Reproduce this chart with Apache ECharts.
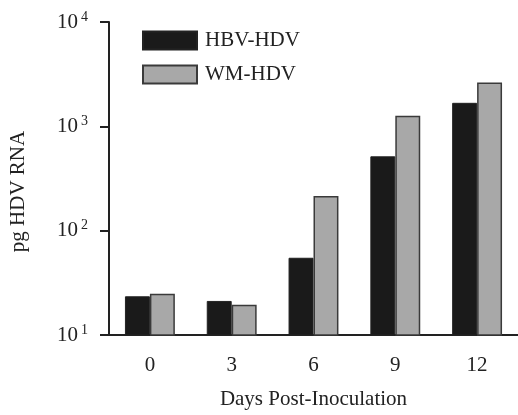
<!DOCTYPE html>
<html>
<head>
<meta charset="utf-8">
<script src="https://cdn.jsdelivr.net/npm/echarts@6/dist/echarts.min.js"></script>
<style>
html, body { margin: 0; padding: 0; background: #fff; }
#main { width: 518px; height: 415px; }
</style>
</head>
<body>
<div id="main"></div>
<script>
// data
var days = ['0', '3', '6', '9', '12'];
var hbvHdv = [23.5, 21.2, 55, 516, 1680];
var wmHdv = [24.8, 19.5, 215, 1260, 2630];
var yTicks = [10, 100, 1000, 10000];
var yExponents = ['1', '2', '3', '4'];

var serif = '"Liberation Serif", "DejaVu Serif", serif';
var ink = '#222';

var myChart = echarts.init(document.getElementById('main'));
var option = {
    animation: false,
    backgroundColor: '#fff',
    textStyle: { fontFamily: serif, color: ink },
    grid: { left: 108, top: 22, width: 420, height: 324 },
    legend: {
        orient: 'vertical',
        left: 137,
        top: 25,
        itemWidth: 54,
        itemHeight: 18,
        itemGap: 13,
        icon: 'rect',
        textStyle: { fontFamily: serif, fontSize: 21, color: ink, padding: [0, 0, 0, 3] },
        data: ['HBV-HDV', 'WM-HDV']
    },
    xAxis: {
        type: 'category',
        data: days,
        name: 'Days Post-Inoculation',
        nameLocation: 'middle',
        nameGap: 54,
        nameTextStyle: { fontFamily: serif, fontSize: 21, color: ink },
        axisLine: { lineStyle: { color: ink, width: 2 } },
        axisTick: { show: false },
        axisLabel: { fontFamily: serif, fontSize: 21, color: ink, margin: 20 }
    },
    yAxis: {
        type: 'log',
        logBase: 10,
        min: 10,
        max: 10000,
        name: 'pg HDV RNA',
        nameLocation: 'middle',
        nameGap: 80,
        nameTextStyle: { fontFamily: serif, fontSize: 21, color: ink, padding: [0, 26, 0, 0] },
        splitLine: { show: false },
        axisLine: { show: true, lineStyle: { color: ink, width: 2 } },
        axisTick: { show: true, length: 9, lineStyle: { color: ink, width: 2 } },
        axisLabel: {
            margin: 21,
            formatter: function (v) {
                var i = yTicks.indexOf(Math.round(v));
                if (i < 0) return '';
                return '{a|10}{b|' + yExponents[i] + '}';
            },
            rich: {
                a: { fontFamily: serif, fontSize: 21, color: ink, lineHeight: 24 },
                b: { fontFamily: serif, fontSize: 14, color: ink, verticalAlign: 'top', lineHeight: 14, padding: [0, 0, 0, 3] }
            }
        }
    },
    series: [{
        name: 'HBV-HDV',
        type: 'bar',
        data: hbvHdv,
        barGap: '0%',
        barCategoryGap: '39%',
        itemStyle: { color: '#1a1a1a', borderColor: '#222', borderWidth: 1 }
    }, {
        name: 'WM-HDV',
        type: 'bar',
        data: wmHdv,
        itemStyle: { color: '#a8a8a8', borderColor: '#3a3a3a', borderWidth: 1.5 }
    }]
};
myChart.setOption(option);
</script>
</body>
</html>
